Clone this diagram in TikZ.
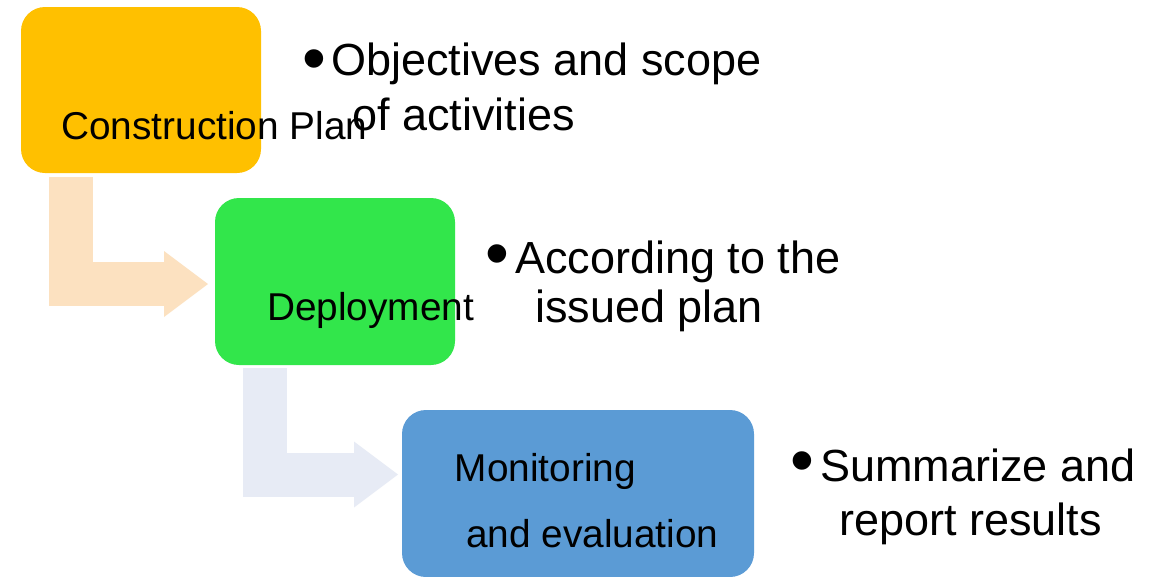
\documentclass[tikz,border=0pt]{standalone}
\usepackage{fontspec}
\setmainfont{Liberation Sans}
\usetikzlibrary{arrows.meta}
\definecolor{planorange}{HTML}{FFC000}
\definecolor{deploygreen}{HTML}{32E64B}
\definecolor{monblue}{HTML}{5B9BD5}
\definecolor{arrowone}{HTML}{FCE1C0}
\definecolor{arrowtwo}{HTML}{E7EBF5}
\tikzset{
  box/.style={rounded corners=24pt, inner sep=0pt, outer sep=0pt, draw=none},
  lbl/.style={anchor=base west, inner sep=0pt, font=\fontsize{38.8}{46}\selectfont},
  btxt/.style={anchor=base west, inner sep=0pt, font=\fontsize{45}{52}\selectfont},
  bul/.style={anchor=base, inner sep=0pt, font=\fontsize{68}{68}\selectfont},
  bentarrow/.style={line width=44pt, line join=miter, line cap=butt,
    -{Triangle[length=44pt,width=66pt,line width=0pt]}}
}
\begin{document}
\begin{tikzpicture}[x=1pt,y=-1pt]
\useasboundingbox (0,0) rectangle (1166,576);
\clip (0,0) rectangle (1166,576);
\fill[white] (0,0) rectangle (1166,576);
% boxes
\node[box, fill=planorange, minimum width=240pt, minimum height=166pt] (b1) at (141,90) {};
\node[box, fill=deploygreen, minimum width=240pt, minimum height=167pt] (b2) at (335,281.5) {};
\node[box, fill=monblue, minimum width=352pt, minimum height=167pt] (b3) at (578,493.5) {};
% bent arrows
\coordinate (a1s) at (70.5,177);
\coordinate (a1e) at (208,284);
\coordinate (a2s) at (265,368);
\coordinate (a2e) at (398,474.5);
\draw[bentarrow, draw=arrowone] (a1s) |- (a1e);
\draw[bentarrow, draw=arrowtwo] (a2s) |- (a2e);
% box labels
\node[lbl] (l1) at (61,139) {Construction Plan};
\node[lbl] (l2) at (267,320) {Deployment};
\node[lbl] (l3a) at (454.5,481) {Monitoring};
\node[lbl] (l3b) at (466,547) {and evaluation};
% bullet texts
\node[bul] (p1) at (314,81) {•};
\node[btxt] (t1a) at (331,75) {Objectives and scope};
\node[btxt] (t1b) at (352,130) {of activities};
\node[bul] (p2) at (497.5,276) {•};
\node[btxt] (t2a) at (515,273) {According to the};
\node[btxt] (t2b) at (535,322) {issued plan};
\node[bul] (p3) at (802,483) {•};
\node[btxt] (t3a) at (820,481) {Summarize and};
\node[btxt] (t3b) at (839,535) {report results};
\end{tikzpicture}
\end{document}
